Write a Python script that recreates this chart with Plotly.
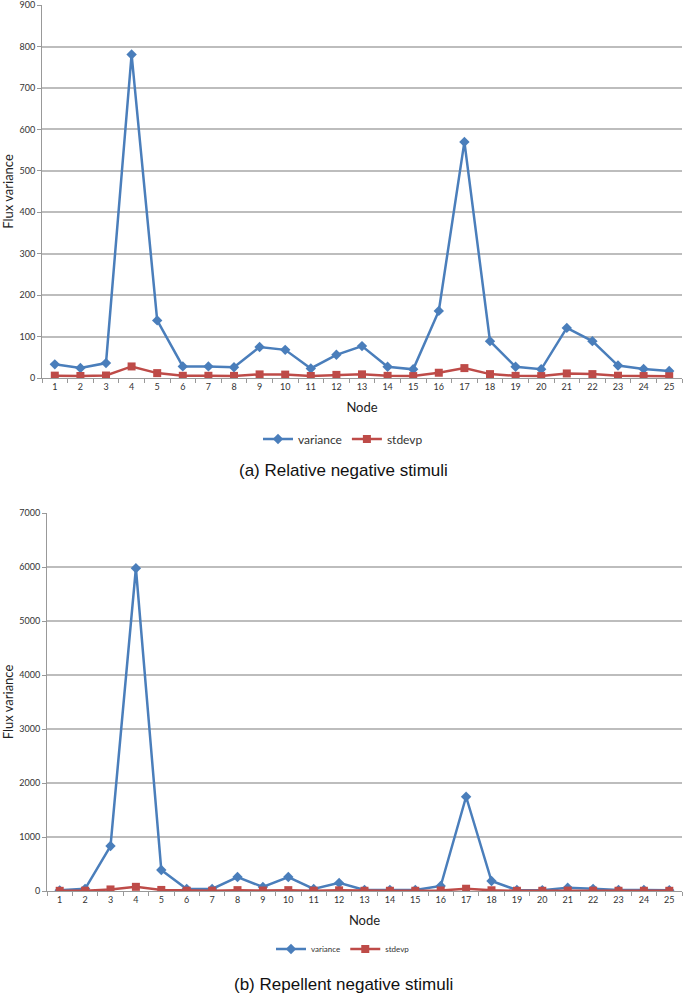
import plotly.graph_objects as go

nodes = [str(i) for i in range(1, 26)]

var_a = [33, 24, 36, 781, 139, 28, 28, 26, 75, 68, 23, 56, 77, 27, 21,
         162, 570, 89, 27, 21, 121, 89, 30, 22, 17]
std_a = [5.7, 4.9, 6.0, 27.9, 11.8, 5.3, 5.3, 5.1, 8.7, 8.2, 4.8, 7.5, 8.8, 5.2, 4.6,
         12.7, 23.9, 9.4, 5.2, 4.6, 11.0, 9.4, 5.5, 4.7, 4.1]

var_b = [12, 40, 833, 5980, 389, 37, 37, 259, 74, 259, 37, 150, 18, 18, 18,
         93, 1746, 185, 18, 15, 62, 40, 20, 18, 15]
std_b = [3.5, 6.3, 28.9, 77.3, 19.7, 6.1, 6.1, 16.1, 8.6, 16.1, 6.1, 12.2, 4.2, 4.2, 4.2,
         9.6, 41.8, 13.6, 4.2, 3.9, 7.9, 6.3, 4.5, 4.2, 3.9]

series_names = ["variance", "stdevp"]
captions = ["(a) Relative negative stimuli", "(b) Repellent negative stimuli"]

BLUE = "#4A7EBB"
RED = "#BE4B48"
W, H = 685, 996

fig = go.Figure()

def add_pair(var, std, xa, ya, leg, dsize, ssize):
    fig.add_trace(go.Scatter(x=nodes, y=var, name=series_names[0], mode="lines+markers",
                             line=dict(color=BLUE, width=2.5),
                             marker=dict(symbol="diamond", size=dsize, color=BLUE),
                             xaxis=xa, yaxis=ya, legend=leg))
    fig.add_trace(go.Scatter(x=nodes, y=std, name=series_names[1], mode="lines+markers",
                             line=dict(color=RED, width=2.5),
                             marker=dict(symbol="square", size=ssize, color=RED),
                             xaxis=xa, yaxis=ya, legend=leg))

add_pair(var_a, std_a, "x", "y", "legend", 8, 8)
add_pair(var_b, std_b, "x2", "y2", "legend2", 8, 8)

tickfont = dict(family="Lato, Open Sans, sans-serif", size=9, color="#333")
titlefont = dict(family="Lato, Open Sans, sans-serif", size=13, color="#222")

def xaxis_cfg(domain):
    return dict(domain=domain, type="category", range=[-0.5, 24.5],
                tickson="boundaries", ticks="outside",
                ticklen=4, tickcolor="#999", showline=True, linecolor="#999", linewidth=1,
                showgrid=False, tickfont=tickfont, fixedrange=True, automargin=False,
                title=dict(text="Node", font=titlefont, standoff=12))

def yaxis_cfg(domain, rng, dtick, anchor):
    return dict(domain=domain, range=rng, dtick=dtick, ticks="outside", ticklen=4,
                tickcolor="#999", showline=True, linecolor="#999", linewidth=1,
                showgrid=True, gridcolor="#BDBDBD", gridwidth=1.5, zeroline=False,
                tickfont=tickfont, anchor=anchor, automargin=False,
                ticklabeloverflow="allow", fixedrange=True,
                title=dict(text="Flux variance", font=titlefont, standoff=6))

fig.update_layout(
    width=W, height=H,
    margin=dict(l=0, r=0, t=0, b=0),
    paper_bgcolor="white", plot_bgcolor="white",
    xaxis=dict(**xaxis_cfg([42 / W, 682 / W]), anchor="y"),
    yaxis=yaxis_cfg([1 - 378 / H, 1 - 5 / H], [0, 900.5], 100, "x"),
    xaxis2=dict(**xaxis_cfg([47 / W, 682 / W]), anchor="y2"),
    yaxis2=yaxis_cfg([1 - 891 / H, 1 - 513 / H], [0, 7003], 1000, "x2"),
    legend=dict(orientation="h", x=343 / W, xanchor="center", y=1 - 439 / H, yanchor="middle",
                font=dict(family="Lato, Open Sans, sans-serif", size=12, color="#333"),
                itemwidth=30, bgcolor="rgba(0,0,0,0)"),
    legend2=dict(orientation="h", x=343 / W, xanchor="center", y=1 - 949 / H, yanchor="middle",
                 font=dict(family="Lato, Open Sans, sans-serif", size=8, color="#333"),
                 itemwidth=30, bgcolor="rgba(0,0,0,0)"),
    annotations=[
        dict(text=captions[0], x=343 / W, y=1 - 470 / H, xref="paper", yref="paper",
             showarrow=False, xanchor="center", yanchor="middle",
             font=dict(family="Liberation Sans, Arial, sans-serif", size=17, color="#111")),
        dict(text=captions[1], x=343 / W, y=1 - 984 / H, xref="paper", yref="paper",
             showarrow=False, xanchor="center", yanchor="middle",
             font=dict(family="Liberation Sans, Arial, sans-serif", size=17, color="#111")),
    ],
)

fig.write_html("out.html", config={"displayModeBar": False},
               post_script="document.body.style.margin='0';document.body.style.overflow='hidden';")
